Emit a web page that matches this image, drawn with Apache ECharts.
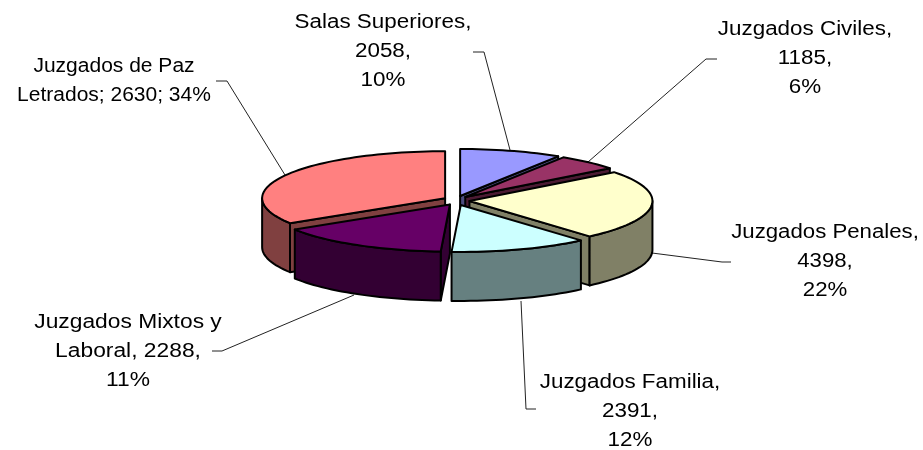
<!DOCTYPE html>
<html><head><meta charset="utf-8">
<script src="https://cdn.jsdelivr.net/npm/echarts@6/dist/echarts.min.js"></script>
<style>html,body{margin:0;padding:0;background:#fff}#c{width:923px;height:450px}</style>
</head><body><div id="c"></div>
<script>
// ---- data ----
const categories = ['Salas Superiores','Juzgados Civiles','Juzgados Penales','Juzgados Familia','Juzgados Mixtos y Laboral','Juzgados de Paz Letrados'];
const values = [2058,1185,4398,2391,2288,2630];
const percentLabels = [10,6,22,12,11,34];
// slice sizes as drawn (%) (they differ from the printed labels)
const sliceShares = [9.0,5.5,24.1,12.2,15.3,33.9];
// ---- styling / layout ----
const topColors = ['#9999FF','#993366','#FFFFCC','#CCFFFF','#660066','#FF8080'];
const wallColors = ['#4C4C80','#4C1A33','#808066','#668080','#330033','#804040'];
const drawOrder = [0,1,5,2,4,3];
const geo = {cx:456.5,cy:200.5,rx:183,ry:47,depth:49,ex:13,ey:4.7};
const labelBoxes = [[383,51.5],[805,58.5],[825,261.5],[630,411.5],[128,351.5],[114,80.5]];
const labelScale = [1.12,1.12,1.11,1.12,1.14,1.05];
const leaders = [
 [[473,52],[484,52],[510,150]],
 [[717,59],[706,59],[588,162]],
 [[731,262],[722,262],[652,253]],
 [[536,409],[526,409],[521,301]],
 [[212,351],[222,351],[354,295]],
 [[216,81],[227,81],[285,175]]
];
const FONT = '20px "Liberation Sans", Arial, sans-serif';

function labelText(i){
  const v=values[i],p=percentLabels[i],n=categories[i];
  if(i===4) return 'Juzgados Mixtos y\nLaboral, '+v+',\n'+p+'%';
  if(i===5) return 'Juzgados de Paz\nLetrados; '+v+'; '+p+'%';
  return n+',\n'+v+',\n'+p+'%';
}
const rad=d=>d*Math.PI/180;
const totalShare=sliceShares.reduce((a,b)=>a+b,0);
const starts=[];let acc=0;
sliceShares.forEach(s=>{starts.push(acc);acc+=s/totalShare*360;});
const seriesData=drawOrder.map(i=>[i,values[i],percentLabels[i],sliceShares[i],starts[i]]);

function renderItem(params,api){
  const i=api.value(0);
  const a0=api.value(4),a1=a0+api.value(3)/totalShare*360;
  const m=(a0+a1)/2;
  const ax=geo.cx+geo.ex*Math.sin(rad(m)), ay=geo.cy-geo.ey*Math.cos(rad(m));
  const P=t=>[ax+geo.rx*Math.sin(rad(t)),ay-geo.ry*Math.cos(rad(t))];
  const arc=(s,e)=>{const o=[];const n=Math.max(2,Math.ceil((e-s)/2));for(let k=0;k<=n;k++)o.push(P(s+(e-s)*k/n));return o;};
  const down=p=>[p[0],p[1]+geo.depth];
  const st={stroke:'#000',lineWidth:2,lineJoin:'round'};
  const children=[];
  const poly=(pts,fill)=>children.push({type:'polygon',shape:{points:pts},style:Object.assign({fill},st)});
  const apex=[ax,ay];
  // cut faces: drawn only when they turn toward the viewer
  [[a0,a0-90],[a1,a1+90]].forEach(([t,n])=>{
    if(Math.cos(rad(n))<0){const e=P(t);poly([apex,e,down(e),down(apex)],wallColors[i]);}
  });
  // outer wall: front half of the rim
  const s=Math.max(a0,90),e=Math.min(a1,270);
  if(e>s){const t=arc(s,e);poly(t.concat(t.map(down).reverse()),wallColors[i]);}
  poly([apex].concat(arc(a0,a1)),topColors[i]);
  return {type:'group',children};
}
function renderLabel(params,api){
  const i=api.value(0);
  return {type:'group',children:[
    {type:'polyline',shape:{points:leaders[i]},style:{fill:null,stroke:'#222',lineWidth:1}},
    {type:'text',x:labelBoxes[i][0],y:labelBoxes[i][1],scaleX:labelScale[i],
     style:{text:labelText(i),font:FONT,fill:'#000',align:'center',verticalAlign:'middle',lineHeight:29}}
  ]};
}
const chart=echarts.init(document.getElementById('c'),null,{renderer:'canvas'});
chart.setOption({
  animation:false,backgroundColor:'#fff',
  series:[
   {type:'custom',coordinateSystem:'none',silent:true,z:1,renderItem:renderLabel,data:categories.map((c,i)=>[i]),encode:{}},
   {type:'custom',coordinateSystem:'none',silent:true,z:2,renderItem:renderItem,data:seriesData,encode:{}}
  ]
});
</script></body></html>
